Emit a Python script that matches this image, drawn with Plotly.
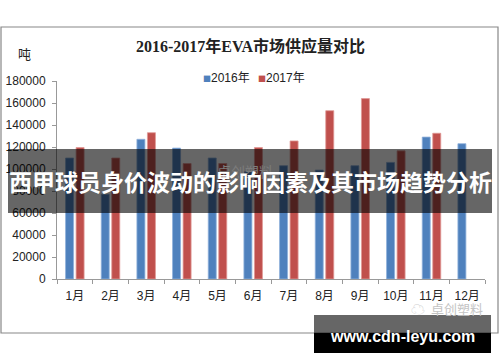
import plotly.graph_objects as go

months = ["1月", "2月", "3月", "4月", "5月", "6月", "7月", "8月", "9月", "10月", "11月", "12月"]
series_names = ["2016年", "2017年"]
v2016 = [110000, 77000, 127000, 119000, 110000, 97500, 103000, 99000, 103000, 106000, 129000, 123000]
v2017 = [119500, 110000, 133000, 105000, 105000, 119500, 125500, 153000, 164000, 116500, 132500, None]
y_ticks = [0, 20000, 40000, 60000, 80000, 100000, 120000, 140000, 160000, 180000]

chart_title = "2016-2017年EVA市场供应量对比"
unit_label = "吨"
banner_text = "西甲球员身价波动的影响因素及其市场趋势分析"
site_text = "www.cdn-leyu.com"
wm_text = "卓创塑料"

c16 = "#4F81BD"
c17 = "#C0504D"

fig = go.Figure()
fig.add_trace(go.Bar(x=months, y=v2016, name=series_names[0], marker=dict(color=c16, line=dict(color="#8fb0da", width=0.8))))
fig.add_trace(go.Bar(x=months, y=v2017, name=series_names[1], marker=dict(color=c17, line=dict(color="#e09896", width=0.8))))

tickfont = dict(family="Liberation Sans, Noto Sans CJK SC", size=12, color="#222")

fig.update_layout(
    width=500, height=362,
    margin=dict(l=57, r=15, t=81, b=83, autoexpand=False),
    paper_bgcolor="white", plot_bgcolor="white",
    barmode="group", bargap=0.41, bargroupgap=0.24,
    showlegend=False,
    xaxis=dict(showgrid=False, showline=True, linecolor="#999", linewidth=1,
               ticks="outside", ticklen=4, tickcolor="#999", tickson="boundaries",
               tickfont=tickfont, ticklabelstandoff=6, fixedrange=True, automargin=False),
    yaxis=dict(range=[0, 180000], tickvals=y_ticks, ticktext=[str(v) for v in y_ticks],
               showgrid=False, showline=True, linecolor="#999", linewidth=1,
               ticks="outside", ticklen=4, tickcolor="#999", zeroline=False,
               tickfont=tickfont, ticklabelstandoff=4, fixedrange=True, automargin=False),
)

shapes = []
def px_rect(x0, x1, y0, y1, color, layer="above", line=None):
    return dict(type="rect", xref="paper", yref="paper",
                x0=(x0-57)/428, x1=(x1-57)/428, y0=(279-y1)/198, y1=(279-y0)/198,
                line=line or dict(width=0), fillcolor=color, layer=layer)
# chart outer border
shapes.append(px_rect(1, 498, 27, 333, "rgba(0,0,0,0)", layer="below", line=dict(color="#888", width=1.2)))
shapes.append(px_rect(8, 492, 149, 213, "rgba(0,0,0,0.6)"))
shapes.append(px_rect(314, 491, 315, 333, "rgba(0,0,0,0.6)"))
shapes.append(px_rect(314, 491, 333, 353, "#000"))
fig.update_layout(shapes=shapes)

def px_ann(x, y, text, size, color, family="Noto Sans CJK SC", xanchor="center", bold=False):
    fig.add_annotation(xref="paper", yref="paper", x=(x-57)/428, y=(279-y)/198,
                       text=f"<b>{text}</b>" if bold else text, showarrow=False,
                       xanchor=xanchor, yanchor="middle",
                       font=dict(family=family, size=size, color=color))

px_ann(250, 46, chart_title, 16, "#222", family="Liberation Serif, Noto Sans CJK SC", bold=True)
px_ann(24, 54, unit_label, 13, "#222")
# legend built from series names
px_ann(201, 78, "■", 8, c16, xanchor="left")
px_ann(209, 78, series_names[0], 12, "#222", family="Liberation Sans, Noto Sans CJK SC", xanchor="left")
px_ann(256, 78, "■", 8, c17, xanchor="left")
px_ann(264, 78, series_names[1], 12, "#222", family="Liberation Sans, Noto Sans CJK SC", xanchor="left")
# watermarks
px_ann(245, 171, wm_text, 14, "#7c7c7c")
px_ann(457, 308, wm_text, 13, "#c4c4c4")
px_ann(418, 308, "☁", 14, "#cfcfcf")
# banner text
px_ann(250, 181, banner_text, 23, "white", bold=True)
px_ann(402, 336, site_text, 16, "white", family="Liberation Sans", bold=True)

fig.write_html("out.html", config={"displayModeBar": False},
               post_script="document.body.style.margin='0';document.body.style.overflow='hidden';")
